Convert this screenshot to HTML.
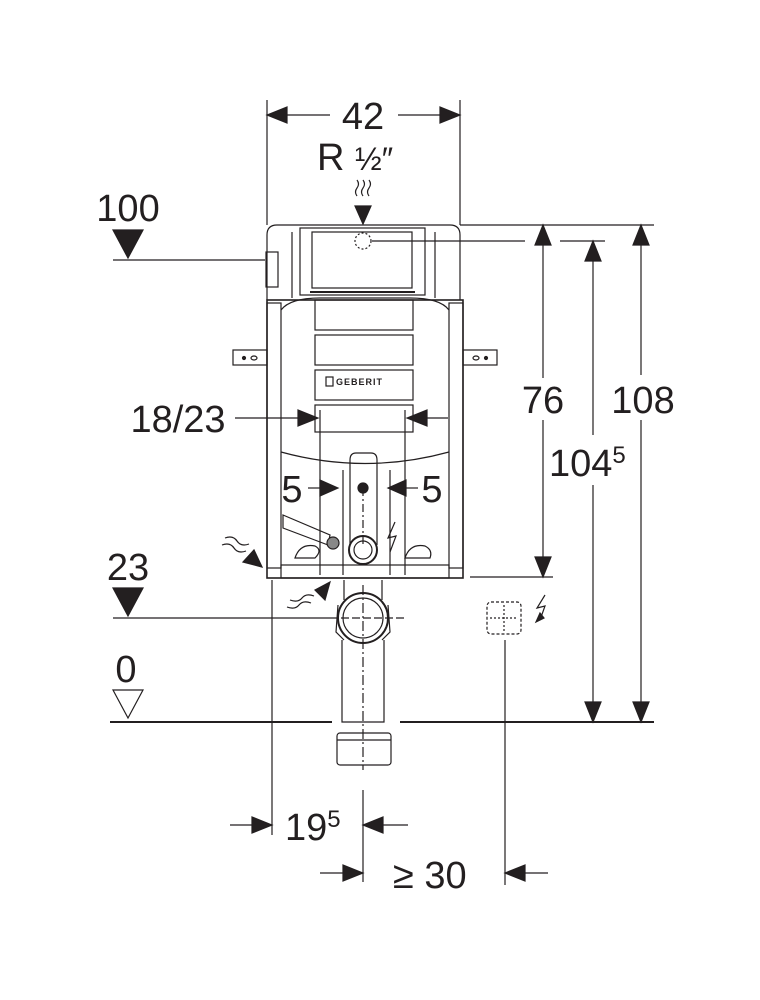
<!DOCTYPE html>
<html><head><meta charset="utf-8"><style>
html,body{margin:0;padding:0;background:#fff}
svg{display:block}
text{font-family:"Liberation Sans",sans-serif;fill:#231f20}
</style></head><body>
<svg width="760" height="1000" viewBox="0 0 760 1000" xmlns="http://www.w3.org/2000/svg">
<g stroke="#231f20" fill="none" stroke-width="1.2">
<line x1="267" y1="100" x2="267" y2="225"/><line x1="460" y1="100" x2="460" y2="225"/>
<path d="M267,115 L287,107 L287,123 Z" fill="#231f20"/><line x1="287" y1="115" x2="330" y2="115"/>
<path d="M460,115 L440,107 L440,123 Z" fill="#231f20"/><line x1="398" y1="115" x2="440" y2="115"/>
<path d="M357,180 q3,4 0,8 q-3,4 0,8" /><path d="M363,180 q3,4 0,8 q-3,4 0,8"/><path d="M369,180 q3,4 0,8 q-3,4 0,8"/>
<path d="M355,206 L371,206 L363,224 Z" fill="#231f20"/>
<line x1="460" y1="225" x2="654" y2="225"/>
<line x1="372" y1="241" x2="525" y2="241"/><line x1="560" y1="241" x2="605" y2="241"/>
<line x1="470" y1="577" x2="553" y2="577"/>
<line x1="543" y1="245" x2="543" y2="378"/><line x1="543" y1="420" x2="543" y2="560"/>
<path d="M543,225 L535,245 L551,245 Z" fill="#231f20"/><path d="M543,577 L535,557 L551,557 Z" fill="#231f20"/>
<line x1="593" y1="260" x2="593" y2="435"/><line x1="593" y1="485" x2="593" y2="702"/>
<path d="M593,241 L585,261 L601,261 Z" fill="#231f20"/><path d="M593,722 L585,702 L601,702 Z" fill="#231f20"/>
<line x1="641" y1="245" x2="641" y2="375"/><line x1="641" y1="420" x2="641" y2="702"/>
<path d="M641,225 L633,245 L649,245 Z" fill="#231f20"/><path d="M641,722 L633,702 L649,702 Z" fill="#231f20"/>
<line x1="113" y1="260" x2="265" y2="260"/>
<path d="M113,230 L143,230 L128,258 Z" fill="#231f20"/>
<line x1="113" y1="618" x2="330" y2="618"/>
<path d="M113,588 L143,588 L128,616 Z" fill="#231f20"/>
<path d="M113,690 L143,690 L128,718 Z" fill="#fff"/>
<line x1="110" y1="722" x2="332" y2="722" stroke-width="2"/>
<line x1="400" y1="722" x2="654" y2="722" stroke-width="2"/>
<path d="M267,300 L267,235 Q267,225 277,225 L450,225 Q460,225 460,235 L460,300"/>
<rect x="300" y="228" width="125" height="67"/>
<rect x="312" y="232" width="100" height="56"/>
<line x1="310" y1="292" x2="415" y2="292" stroke-width="2"/>
<rect x="266" y="252" width="12" height="35"/>
<line x1="292" y1="232" x2="292" y2="298"/><line x1="435" y1="232" x2="435" y2="298"/>
<circle cx="363" cy="241" r="8" stroke-dasharray="2,2"/>
<rect x="267" y="300" width="196" height="278" stroke-width="1.6"/>
<rect x="267" y="303" width="14" height="265"/><rect x="449" y="303" width="14" height="265"/>
<path d="M281,310 Q290,298 320,298 L410,298 Q440,298 449,310"/>
<rect x="233" y="350" width="34" height="15"/><rect x="463" y="350" width="34" height="15"/>
<circle cx="244" cy="358" r="1.5" fill="#231f20"/><ellipse cx="254" cy="358" rx="3" ry="2"/>
<circle cx="486" cy="358" r="1.5" fill="#231f20"/><ellipse cx="476" cy="358" rx="3" ry="2"/>
<rect x="315" y="300" width="98" height="30"/>
<rect x="315" y="335" width="98" height="30"/>
<rect x="315" y="370" width="98" height="30"/>
<rect x="315" y="405" width="98" height="27"/>
<rect x="326" y="377" width="7" height="9"/>
<path d="M281,452 Q365,475 449,452"/>
<path d="M350,545 L350,460 Q350,453 356,453 L371,453 Q377,453 377,460 L377,545"/>
<circle cx="363" cy="550" r="14" stroke-width="2"/><circle cx="363" cy="550" r="9"/>
<rect x="281" y="565" width="168" height="13"/>
<path d="M283,515 L330,535 L328,545 L283,528 Z"/>
<circle cx="333" cy="543" r="6" fill="#888"/>
<path d="M295,558 q5,-15 20,-12 q8,4 0,12 Z"/><path d="M405,558 q5,-15 20,-12 q8,4 5,12 Z"/>
<line x1="320" y1="410" x2="320" y2="575"/><line x1="405" y1="410" x2="405" y2="575"/>
<line x1="343" y1="470" x2="343" y2="575"/><line x1="390" y1="470" x2="390" y2="575"/>
<line x1="363" y1="488" x2="363" y2="545" stroke-dasharray="8,3,2,3"/>
<circle cx="363" cy="488" r="5" fill="#231f20"/>
<line x1="235" y1="418" x2="300" y2="418"/><path d="M318,418 L298,410 L298,426 Z" fill="#231f20"/>
<line x1="425" y1="418" x2="448" y2="418"/><path d="M407,418 L427,410 L427,426 Z" fill="#231f20"/>
<line x1="308" y1="488" x2="322" y2="488"/><path d="M338,488 L320,480 L320,496 Z" fill="#231f20"/>
<line x1="404" y1="488" x2="418" y2="488"/><path d="M388,488 L406,480 L406,496 Z" fill="#231f20"/>
<path d="M225,538 q8,-3 12,3 q4,6 12,3"/><path d="M222,545 q8,-3 12,3 q4,6 12,3"/>
<path d="M262,567 L243,562 L254,550 Z" fill="#231f20"/>
<path d="M290,600 q8,3 12,-2 q4,-5 12,-2"/><path d="M287,607 q8,3 12,-2 q4,-5 12,-2"/>
<path d="M330,582 L315,590 L325,600 Z" fill="#231f20"/>
<path d="M395,522 L388,538 L396,536 L390,552" />
<path d="M344,580 L344,600 M382,580 L382,600"/>
<circle cx="363" cy="618" r="25" stroke-width="2"/><circle cx="363" cy="618" r="20"/>
<path d="M338,605 L336,632 L344,640 M388,605 L390,632 L382,640"/>
<path d="M342,640 L342,722 L384,722 L384,640"/>
<rect x="337" y="733" width="54" height="32" rx="3"/>
<line x1="337" y1="740" x2="391" y2="740"/>
<line x1="363" y1="585" x2="363" y2="770" stroke-dasharray="10,3,2,3"/>
<line x1="330" y1="618" x2="405" y2="618" stroke-dasharray="8,3"/>
<rect x="487" y="602" width="34" height="32" rx="4" stroke-dasharray="3,2"/>
<line x1="490" y1="618" x2="518" y2="618" stroke-dasharray="2,2"/>
<line x1="504" y1="605" x2="504" y2="631" stroke-dasharray="2,2"/>
<path d="M545,595 L537,608 L545,606 L540,620"/>
<path d="M536,622 L540,613 L544,618 Z" fill="#231f20"/>
<line x1="272" y1="580" x2="272" y2="835"/>
<line x1="363" y1="790" x2="363" y2="882"/>
<line x1="505" y1="640" x2="505" y2="885"/>
<line x1="230" y1="825" x2="252" y2="825"/><path d="M272,825 L252,817 L252,833 Z" fill="#231f20"/>
<line x1="383" y1="825" x2="408" y2="825"/><path d="M363,825 L383,817 L383,833 Z" fill="#231f20"/>
<line x1="320" y1="873" x2="343" y2="873"/><path d="M363,873 L343,865 L343,881 Z" fill="#231f20"/>
<line x1="525" y1="873" x2="548" y2="873"/><path d="M505,873 L525,865 L525,881 Z" fill="#231f20"/>
</g>
<g font-size="38">
<text x="363" y="129" text-anchor="middle">42</text>
<text x="317" y="170">R <tspan font-size="32">½″</tspan></text>
<text x="128" y="221" text-anchor="middle">100</text>
<text x="128" y="580" text-anchor="middle">23</text>
<text x="126" y="682" text-anchor="middle">0</text>
<text x="178" y="432" text-anchor="middle">18/23</text>
<text x="292" y="502" text-anchor="middle">5</text>
<text x="432" y="502" text-anchor="middle">5</text>
<text x="543" y="413" text-anchor="middle">76</text>
<text x="643" y="413" text-anchor="middle">108</text>
<text x="549" y="476">104<tspan font-size="24" dy="-13">5</tspan></text>
<text x="285" y="840">19<tspan font-size="24" dy="-13">5</tspan></text>
<text x="393" y="888">≥ 30</text>
</g>
<text x="336" y="385" font-size="9" font-weight="bold" letter-spacing="1">GEBERIT</text>
</svg>
</body></html>
